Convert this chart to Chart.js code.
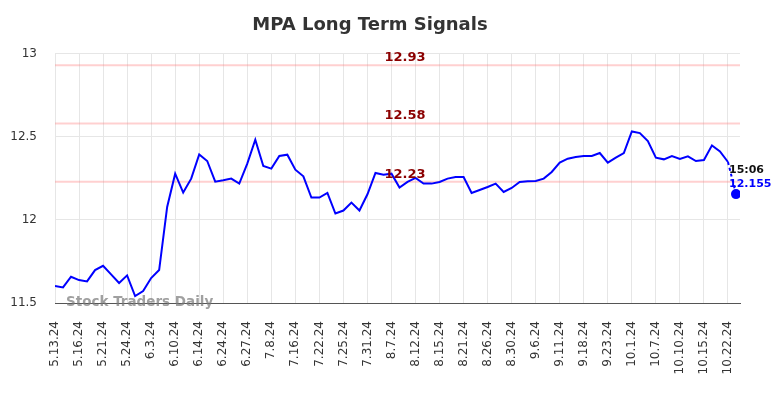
<!DOCTYPE html>
<html>
<head>
<meta charset="utf-8">
<script src="https://cdn.jsdelivr.net/npm/chart.js@4/dist/chart.umd.min.js"></script>
<style>
  html, body { margin: 0; padding: 0; background: #fff; }
  #wrap { width: 784px; height: 398px; }
</style>
</head>
<body>
<div id="wrap"><canvas id="mpaChart"></canvas></div>
<script>
// one label every 3 sessions
const tickLabels = ['5.13.24', '5.16.24', '5.21.24', '5.24.24', '6.3.24', '6.10.24', '6.14.24', '6.24.24',
    '6.27.24', '7.8.24', '7.16.24', '7.22.24', '7.25.24', '7.31.24', '8.7.24', '8.12.24', '8.15.24',
    '8.21.24', '8.26.24', '8.30.24', '9.6.24', '9.11.24', '9.18.24', '9.23.24', '10.1.24', '10.7.24',
    '10.10.24', '10.15.24', '10.22.24'];

const prices = [
    11.602, 11.594, 11.658, 11.638, 11.630, 11.698, 11.724, 11.672, 11.620, 11.666,
    11.542, 11.572, 11.650, 11.698, 12.078, 12.278, 12.164, 12.248, 12.394, 12.354,
    12.230, 12.238, 12.248, 12.218, 12.338, 12.482, 12.324, 12.308, 12.384, 12.392,
    12.302, 12.262, 12.134, 12.134, 12.162, 12.038, 12.056, 12.104, 12.056, 12.154,
    12.282, 12.272, 12.278, 12.194, 12.228, 12.252, 12.218, 12.218, 12.228, 12.248,
    12.258, 12.258, 12.162, 12.180, 12.198, 12.218, 12.168, 12.192, 12.228, 12.232,
    12.234, 12.248, 12.288, 12.344, 12.368, 12.378, 12.384, 12.384, 12.402, 12.344,
    12.374, 12.402, 12.532, 12.522, 12.474, 12.374, 12.364, 12.384, 12.366, 12.382,
    12.354, 12.360, 12.448, 12.412, 12.348, 12.155
];

const signalLevels = [12.93, 12.58, 12.23];
const lastTime = '15:06';
const lastPrice = '12.155';

const last = prices.length - 1;
const xMax = 85.5;

const priceData = prices.map((v, i) => ({ x: i, y: v }));

const signalSets = signalLevels.map(lvl => ({
    data: [{ x: 0, y: lvl }, { x: xMax, y: lvl }],
    borderColor: 'rgba(255, 120, 120, 0.35)',
    borderWidth: 2,
    pointRadius: 0,
    order: 2,
}));

const labelPlugin = {
    id: 'labelPlugin',
    afterDatasetsDraw(chart) {
        const ctx = chart.ctx;
        const xs = chart.scales.x;
        const ys = chart.scales.y;
        ctx.save();

        // signal level labels
        ctx.font = 'bold 13px "DejaVu Sans"';
        ctx.fillStyle = '#8b0000';
        ctx.textAlign = 'center';
        ctx.textBaseline = 'bottom';
        signalLevels.forEach(lvl => {
            ctx.fillText(lvl.toFixed(2), 405, ys.getPixelForValue(lvl) - 1);
        });

        // watermark
        ctx.font = 'bold 13.5px "DejaVu Sans"';
        ctx.fillStyle = 'rgba(120, 120, 120, 0.7)';
        ctx.textAlign = 'left';
        ctx.textBaseline = 'middle';
        ctx.fillText('Stock Traders Daily', 66, ys.bottom - 1);

        // last price label
        const px = xs.getPixelForValue(last);
        const py = ys.getPixelForValue(prices[last]);
        ctx.font = 'bold 11px "DejaVu Sans"';
        ctx.textAlign = 'left';
        ctx.fillStyle = '#111';
        ctx.fillText(lastTime, px - 7, py - 24);
        ctx.fillStyle = '#0000ff';
        ctx.fillText(lastPrice, px - 7, py - 10);
        ctx.restore();
    }
};

new Chart(document.getElementById('mpaChart'), {
    type: 'line',
    data: {
        datasets: [{
            data: priceData,
            borderColor: '#0000ff',
            backgroundColor: '#0000ff',
            borderWidth: 2,
            tension: 0,
            fill: false,
            pointRadius: ctx => ctx.dataIndex === last ? 4 : 0,
            pointHoverRadius: 0,
            segment: {
                borderDash: ctx => ctx.p1DataIndex === last ? [3, 3] : undefined,
            },
            order: 1,
        }, ...signalSets],
    },
    options: {
        responsive: true,
        maintainAspectRatio: false,
        animation: false,
        layout: { padding: { left: 0, right: 44, top: 0, bottom: 0 } },
        scales: {
            x: {
                type: 'linear',
                min: 0,
                max: xMax,
                afterFit: scale => { scale.height = 95; },
                grid: { color: '#e6e6e6', drawTicks: false },
                border: { display: true, color: '#555', width: 1 },
                ticks: {
                    stepSize: 3,
                    includeBounds: false,
                    autoSkip: false,
                    minRotation: 90,
                    maxRotation: 90,
                    padding: 18,
                    color: '#333',
                    font: { family: 'DejaVu Sans', size: 12 },
                    callback: v => (v % 3 === 0 ? tickLabels[v / 3] : ''),
                },
            },
            y: {
                min: 11.5,
                max: 13,
                afterFit: scale => { scale.width = 55; },
                grid: { color: '#e6e6e6', drawTicks: false },
                border: { display: false },
                ticks: {
                    stepSize: 0.5,
                    padding: 18,
                    color: '#333',
                    font: { family: 'DejaVu Sans', size: 12 },
                    callback: v => String(v),
                },
            },
        },
        plugins: {
            legend: { display: false },
            tooltip: { enabled: false },
            title: {
                display: true,
                text: 'MPA Long Term Signals',
                color: '#333',
                font: { family: 'DejaVu Sans', size: 18, weight: 'bold' },
                padding: { top: 15, bottom: 17 },
            },
        },
    },
    plugins: [labelPlugin],
});
</script>
</body>
</html>
